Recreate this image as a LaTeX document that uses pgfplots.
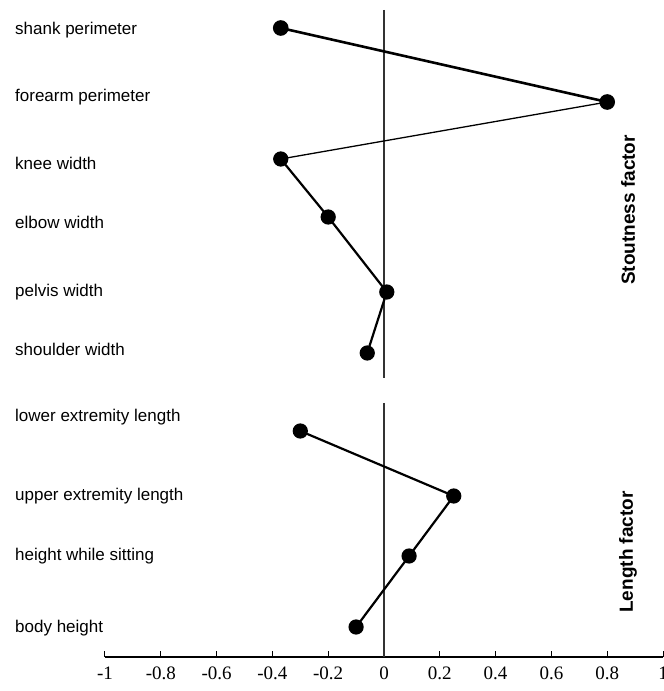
\documentclass[border=0pt]{standalone}
\usepackage{fontspec}
\setmainfont{Liberation Sans}
\newfontfamily\tnr{Liberation Serif}
\usepackage{pgfplots}
\pgfplotsset{compat=1.18}
\begin{document}
\begin{tikzpicture}
\begin{axis}[
    scale only axis,
    width=558pt, height=647pt,
    xmin=-1, xmax=1,
    ymin=34, ymax=681,
    clip=false,
    axis x line=bottom,
    axis y line=none,
    x axis line style={-, line width=1.2pt},
    xtick={-1,-0.8,-0.6,-0.4,-0.2,0,0.2,0.4,0.6,0.8,1},
    xticklabels={-1,-0.8,-0.6,-0.4,-0.2,0,0.2,0.4,0.6,0.8,1},
    xticklabel style={font=\tnr\fontsize{19}{19}\selectfont, yshift=-6pt},
    tick align=inside,
    major tick length=6pt,
    tick style={line width=1pt, black},
    every axis plot/.append style={black},
]
% zero lines for each panel
\addplot[line width=1.2pt, black!80] coordinates {(0,681) (0,313)};
\addplot[line width=1.2pt, black!80] coordinates {(0,288) (0,34)};

% stoutness factor
\addplot[line width=2.6pt, mark=*, mark size=6.5pt] coordinates {(-0.37,663) (0.80,589)};
\addplot[line width=1.3pt, mark=*, mark size=6.5pt] coordinates {(0.80,589) (-0.37,532)};
\addplot[line width=2.2pt, mark=*, mark size=6.5pt] coordinates {(-0.37,532) (-0.20,474) (0.01,399) (-0.06,338)};

% length factor
\addplot[line width=2.2pt, mark=*, mark size=6.5pt] coordinates {(-0.30,260) (0.25,195) (0.09,135) (-0.10,64)};

\begin{scope}[every node/.style={anchor=west, inner sep=0pt, font=\fontsize{17}{17}\selectfont}]
\node at (axis cs:-1.3226,661) {shank perimeter};
\node at (axis cs:-1.3226,594) {forearm perimeter};
\node at (axis cs:-1.3226,528) {knee width};
\node at (axis cs:-1.3226,469) {elbow width};
\node at (axis cs:-1.3226,399) {pelvis width};
\node at (axis cs:-1.3226,342) {shoulder width};
\node at (axis cs:-1.3226,274) {lower extremity length};
\node at (axis cs:-1.3226,195) {upper extremity length};
\node at (axis cs:-1.3226,135) {height while sitting};
\node at (axis cs:-1.3226,63) {body height};
\end{scope}
\node[rotate=90, font=\bfseries\fontsize{19}{19}\selectfont] at (axis cs:0.875,481) {Stoutness factor};
\node[rotate=90, font=\bfseries\fontsize{19}{19}\selectfont] at (axis cs:0.875,139) {Length factor};
\end{axis}
\pgfresetboundingbox
\path (-105pt,-34pt) rectangle (559pt,657pt);
\end{tikzpicture}
\end{document}
